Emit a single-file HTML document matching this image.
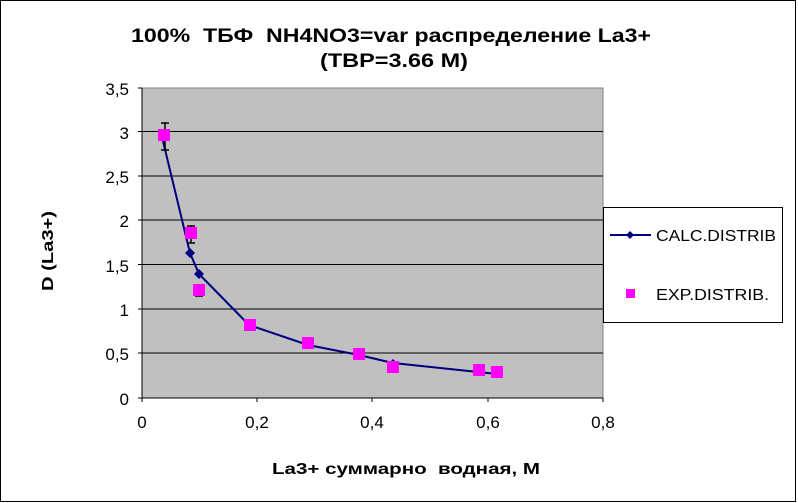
<!DOCTYPE html>
<html><head><meta charset="utf-8"><style>
body{margin:0;background:#fff}
svg{display:block;font-family:"Liberation Sans",Arial,sans-serif}
</style></head><body>
<svg width="798" height="503" viewBox="0 0 798 503">
<rect x="0.5" y="0.5" width="795" height="501" fill="#fff" stroke="#000"/>
<text x="131" y="42" font-size="19" font-weight="bold" textLength="520" lengthAdjust="spacingAndGlyphs" xml:space="preserve">100%  ТБФ  NH4NO3=var распределение La3+</text>
<text x="320" y="67" font-size="19" font-weight="bold" textLength="148" lengthAdjust="spacingAndGlyphs">(ТВР=3.66 М)</text>
<rect x="142" y="88" width="461" height="310" fill="#c0c0c0" stroke="#808080"/>
<g stroke="#000" stroke-width="1">
<line x1="142" y1="131.5" x2="603" y2="131.5"/>
<line x1="142" y1="176" x2="603" y2="176"/>
<line x1="142" y1="220" x2="603" y2="220"/>
<line x1="142" y1="264.5" x2="603" y2="264.5"/>
<line x1="142" y1="309" x2="603" y2="309"/>
<line x1="142" y1="353" x2="603" y2="353"/>
<line x1="142" y1="88" x2="142" y2="398"/>
<line x1="142" y1="398" x2="603" y2="398"/>
<line x1="138" y1="88" x2="142" y2="88"/><line x1="138" y1="131.5" x2="142" y2="131.5"/><line x1="138" y1="176" x2="142" y2="176"/><line x1="138" y1="220" x2="142" y2="220"/><line x1="138" y1="264.5" x2="142" y2="264.5"/><line x1="138" y1="309" x2="142" y2="309"/><line x1="138" y1="353" x2="142" y2="353"/><line x1="138" y1="398" x2="142" y2="398"/>
<line x1="142" y1="398" x2="142" y2="402"/><line x1="257" y1="398" x2="257" y2="402"/><line x1="372" y1="398" x2="372" y2="402"/><line x1="488" y1="398" x2="488" y2="402"/><line x1="603" y1="398" x2="603" y2="402"/>
</g>
<g font-size="17" text-anchor="end">
<text x="129" y="95">3,5</text><text x="129" y="139">3</text><text x="129" y="183">2,5</text><text x="129" y="227">2</text><text x="129" y="272">1,5</text><text x="129" y="316">1</text><text x="129" y="360">0,5</text><text x="129" y="405">0</text>
</g>
<g font-size="17" text-anchor="middle">
<text x="142" y="428">0</text><text x="257" y="428">0,2</text><text x="372" y="428">0,4</text><text x="488" y="428">0,6</text><text x="603" y="428">0,8</text>
</g>
<text x="272" y="474" font-size="16" font-weight="bold" textLength="268" lengthAdjust="spacingAndGlyphs" xml:space="preserve">La3+ суммарно  водная, М</text>
<text transform="translate(53,291) rotate(-90)" font-size="16" font-weight="bold" textLength="80" lengthAdjust="spacingAndGlyphs">D (La3+)</text>
<polyline fill="none" stroke="#000080" stroke-width="2" points="162,137 190,253 199,274 249,325 308,345 359,355 393,363 497,374"/>
<g fill="#000080">
<path d="M190,248l5,5l-5,5l-5,-5z"/><path d="M199,269l5,5l-5,5l-5,-5z"/><path d="M359,351l4,4l-4,4l-4,-4z"/><path d="M393,359l4,4l-4,4l-4,-4z"/><path d="M497,370l4,4l-4,4l-4,-4z"/>
</g>
<g stroke="#000" stroke-width="1.5">
<line x1="165" y1="123" x2="165" y2="150"/><line x1="161" y1="123" x2="169" y2="123"/><line x1="161" y1="150" x2="169" y2="150"/>
<line x1="191" y1="226" x2="191" y2="243"/><line x1="187" y1="226" x2="195" y2="226"/><line x1="187" y1="243" x2="195" y2="243"/>
<line x1="199" y1="290" x2="199" y2="296"/><line x1="195" y1="296" x2="203" y2="296"/>
</g>
<g fill="#ff00ff">
<rect x="158" y="129" width="12" height="12"/><rect x="185" y="227" width="12" height="12"/><rect x="193" y="284" width="12" height="12"/><rect x="244" y="319" width="12" height="12"/><rect x="302" y="337" width="12" height="12"/><rect x="353" y="348" width="12" height="12"/><rect x="387" y="361" width="12" height="12"/><rect x="473" y="364" width="12" height="12"/><rect x="491" y="366" width="12" height="12"/>
</g>
<rect x="603.5" y="207.5" width="179" height="115" fill="#fff" stroke="#000"/>
<line x1="610" y1="235" x2="651" y2="235" stroke="#000080" stroke-width="2"/>
<path d="M630,231l4,4l-4,4l-4,-4z" fill="#000080"/>
<text x="656" y="241" font-size="16" textLength="120" lengthAdjust="spacingAndGlyphs">CALC.DISTRIB</text>
<rect x="626" y="289" width="9" height="9" fill="#ff00ff"/>
<text x="656" y="300" font-size="16" textLength="113" lengthAdjust="spacingAndGlyphs">EXP.DISTRIB.</text>
</svg>
</body></html>
